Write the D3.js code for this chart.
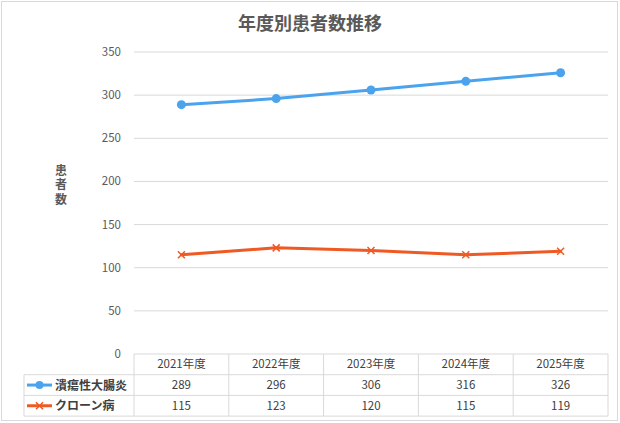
<!DOCTYPE html>
<html>
<head>
<meta charset="utf-8">
<script src="https://cdn.jsdelivr.net/npm/d3@7"></script>
<style>
  body { margin: 0; background: #fff; }
  svg { font-family: "Noto Sans CJK JP", "Noto Sans", sans-serif; }
</style>
</head>
<body>
<svg id="chart" width="620" height="423"></svg>
<script>
const years = ["2021年度", "2022年度", "2023年度", "2024年度", "2025年度"];
const ucValues = [289, 296, 306, 316, 326];
const crohnValues = [115, 123, 120, 115, 119];
const seriesNames = ["潰瘍性大腸炎", "クローン病"];
const yTicks = [0, 50, 100, 150, 200, 250, 300, 350];

const series = [
  { name: seriesNames[0], values: ucValues, color: "#4ba3ee", mark: "circle" },
  { name: seriesNames[1], values: crohnValues, color: "#ef5a24", mark: "x" }
];

const plotLeft = 134, plotRight = 608, plotTop = 52, plotBottom = 354;
const rowH = 20.7;

const svg = d3.select("#chart");

// outer frame
svg.append("rect")
  .attr("x", 1.5).attr("y", 1.5)
  .attr("width", 616).attr("height", 419)
  .attr("fill", "#fff")
  .attr("stroke", "#d9d9d9");

svg.append("text")
  .attr("x", 310).attr("y", 30)
  .attr("text-anchor", "middle")
  .attr("font-size", 18)
  .attr("font-weight", "bold")
  .attr("fill", "#595959")
  .text("年度別患者数推移");

const x = d3.scaleBand()
  .domain(years)
  .range([plotLeft, plotRight]);

const y = d3.scaleLinear()
  .domain([0, 350])
  .range([plotBottom, plotTop]);

// gridlines
svg.append("g")
  .selectAll("line")
  .data(yTicks.filter(d => d > 0))
  .enter()
  .append("line")
  .attr("x1", plotLeft).attr("x2", plotRight)
  .attr("y1", d => y(d)).attr("y2", d => y(d))
  .attr("stroke", "#d9d9d9")
  .attr("stroke-width", 1);

// y axis labels
svg.append("g")
  .selectAll("text")
  .data(yTicks)
  .enter()
  .append("text")
  .attr("x", 121)
  .attr("y", d => y(d) + 4)
  .attr("text-anchor", "end")
  .attr("font-size", 11.5)
  .attr("fill", "#595959")
  .text(d => d);

// y axis title, written vertically
svg.append("text")
  .attr("x", 61).attr("y", 164)
  .attr("writing-mode", "vertical-rl")
  .attr("font-size", 12)
  .attr("font-weight", "bold")
  .attr("letter-spacing", 2.5)
  .attr("fill", "#595959")
  .text("患者数");

// lines
const line = d3.line()
  .x((d, i) => x(years[i]) + x.bandwidth() / 2)
  .y(d => y(d));

series.forEach(function(s) {
  svg.append("path")
    .datum(s.values)
    .attr("d", line)
    .attr("fill", "none")
    .attr("stroke", s.color)
    .attr("stroke-width", 3)
    .attr("stroke-linejoin", "round")
    .attr("stroke-linecap", "round");

  const g = svg.append("g");
  s.values.forEach(function(v, i) {
    const cx = x(years[i]) + x.bandwidth() / 2, cy = y(v);
    if (s.mark == "circle") {
      g.append("circle").attr("cx", cx).attr("cy", cy).attr("r", 4.5)
        .attr("fill", s.color);
    } else {
      g.append("path")
        .attr("d", "M" + (cx - 3.5) + "," + (cy - 3.5) + "L" + (cx + 3.5) + "," + (cy + 3.5) +
                   "M" + (cx - 3.5) + "," + (cy + 3.5) + "L" + (cx + 3.5) + "," + (cy - 3.5))
        .attr("stroke", s.color).attr("stroke-width", 1.5);
    }
  });
});

// data table
const tbl = svg.append("g").attr("stroke", "#d9d9d9").attr("stroke-width", 1);
const tableLeft = 24;
// horizontal lines
tbl.append("line").attr("x1", plotLeft).attr("x2", plotRight).attr("y1", plotBottom).attr("y2", plotBottom);
[1, 2, 3].forEach(function(r) {
  tbl.append("line")
    .attr("x1", tableLeft).attr("x2", plotRight)
    .attr("y1", plotBottom + r * rowH).attr("y2", plotBottom + r * rowH);
});
// vertical lines
tbl.append("line").attr("x1", tableLeft).attr("x2", tableLeft)
  .attr("y1", plotBottom + rowH).attr("y2", plotBottom + 3 * rowH);
years.forEach(function(yr) {
  tbl.append("line").attr("x1", x(yr)).attr("x2", x(yr))
    .attr("y1", plotBottom).attr("y2", plotBottom + 3 * rowH);
});
tbl.append("line").attr("x1", plotRight).attr("x2", plotRight)
  .attr("y1", plotBottom).attr("y2", plotBottom + 3 * rowH);

// header text
svg.append("g")
  .selectAll("text")
  .data(years)
  .enter()
  .append("text")
  .attr("x", d => x(d) + x.bandwidth() / 2)
  .attr("y", plotBottom + rowH / 2 + 4)
  .attr("text-anchor", "middle")
  .attr("font-size", 11.5)
  .attr("fill", "#404040")
  .text(d => d);

// rows
series.forEach(function(s, r) {
  const cy = plotBottom + rowH * (r + 1.5);
  svg.append("line")
    .attr("x1", 27).attr("x2", 52)
    .attr("y1", cy).attr("y2", cy)
    .attr("stroke", s.color).attr("stroke-width", 3);
  if (s.mark == "circle") {
    svg.append("circle").attr("cx", 39.5).attr("cy", cy).attr("r", 4).attr("fill", s.color);
  } else {
    svg.append("path")
      .attr("d", "M36,"+(cy-3.5)+"L43,"+(cy+3.5)+"M36,"+(cy+3.5)+"L43,"+(cy-3.5))
      .attr("stroke", s.color).attr("stroke-width", 1.5);
  }
  svg.append("text")
    .attr("x", 55).attr("y", cy + 4.5)
    .attr("font-size", 12)
    .attr("font-weight", "bold")
    .attr("fill", "#404040")
    .text(s.name);
  svg.append("g")
    .selectAll("text")
    .data(s.values)
    .enter()
    .append("text")
    .attr("x", (d, i) => x(years[i]) + x.bandwidth() / 2)
    .attr("y", cy + 4)
    .attr("text-anchor", "middle")
    .attr("font-size", 11.5)
    .attr("fill", "#404040")
    .text(d => d);
});
</script>
</body>
</html>
